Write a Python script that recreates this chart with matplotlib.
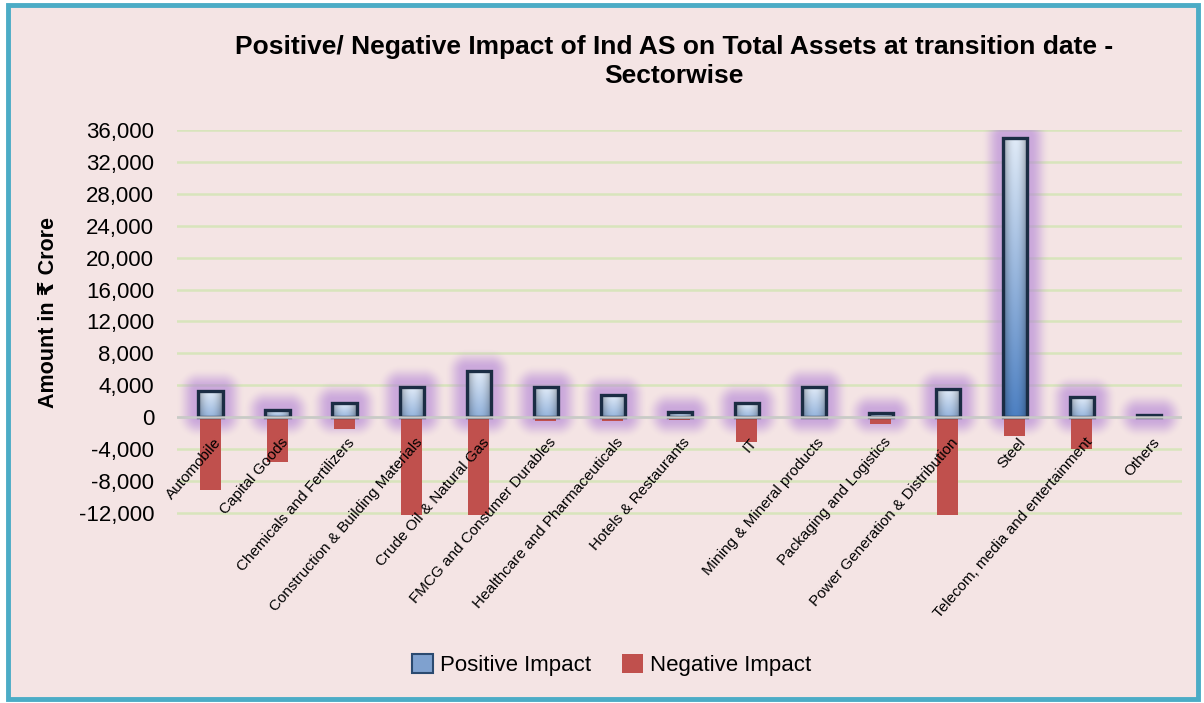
import numpy as np
import matplotlib.pyplot as plt
from matplotlib.patches import Rectangle, Patch
from matplotlib.ticker import FuncFormatter

plt.rcParams['font.family'] = ['Liberation Sans', 'DejaVu Sans']

# sector-wise impact on total assets (Rs crore)
sectors = ["Automobile", "Capital Goods", "Chemicals and Fertilizers",
           "Construction & Building Materials", "Crude Oil & Natural Gas",
           "FMCG and Consumer Durables", "Healthcare and Pharmaceuticals",
           "Hotels & Restaurants", "IT", "Mining & Mineral products",
           "Packaging and Logistics", "Power Generation & Distribution",
           "Steel", "Telecom, media and entertainment", "Others"]
positive = [3250, 900, 1750, 3750, 5750, 3750, 2750, 600, 1750, 3750, 500, 3500, 35000, 2500, 300]
negative = [-9100, -5600, -1500, -12300, -12300, -500, -500, -300, -3100, 0, -800, -12300, -2300, -4000, -100]

title = "Positive/ Negative Impact of Ind AS on Total Assets at transition date -\nSectorwise"
ylabel = "Amount in \u20b9 Crore"
yticks = list(range(-12000, 36001, 4000))

fig = plt.figure(figsize=(12.04, 7.03), dpi=100, facecolor='white')
# pink chart area with teal frame
fig.patches.append(Rectangle((8 / 1204, 4 / 703), 1190 / 1204, 694 / 703,
                             transform=fig.transFigure, facecolor='#F4E4E4',
                             edgecolor='#4BACC6', linewidth=3.5, zorder=-10))

ax = fig.add_axes([0.147, 0.267, 0.835, 0.548])
ax.set_facecolor('none')
n = len(sectors)
x = np.arange(n)
xlim = (-0.5, n - 0.5)
ylim = (-12300, 36000)

ax.set_yticks(yticks)
ax.yaxis.set_major_formatter(FuncFormatter(lambda v, p: f"{int(v):,}"))
ax.yaxis.grid(True, color='#D8E4BC', lw=1.8, zorder=0)
ax.set_axisbelow(True)
for s in ax.spines.values():
    s.set_visible(False)
ax.tick_params(left=False, bottom=False, labelbottom=False, labelsize=16, pad=13)
ax.axhline(0, color='#C9C9C9', lw=1.8, zorder=5)

# negative impact bars
ax.bar(x, negative, width=0.31, color='#C0504D', zorder=3)

# positive impact bars with bevel-like gradient
pw = 0.36
bars = ax.bar(x, positive, width=pw, facecolor='none', edgecolor='#1B2D44', lw=2.4, zorder=4.5)
ny, nx = 200, 40
v = np.linspace(0, 1, ny)[:, None, None]
u = np.linspace(0, 1, nx)[None, :, None]
top = np.array([0.88, 0.92, 0.97])
bot = np.array([0.30, 0.50, 0.76])
for b, val in zip(bars, positive):
    frac = val / max(positive)
    vv = v * (0.45 + 0.55 * frac)
    base = top * (1 - vv) + bot * vv
    shade = 0.62 + 0.38 * np.sin(np.pi * u) ** 0.7
    img = np.clip(base * shade, 0, 1)
    im = ax.imshow(img, extent=[b.get_x(), b.get_x() + pw, 0, val],
                   aspect='auto', origin='upper', zorder=4, interpolation='bilinear')
    im.set_clip_path(b)

ax.set_xlim(*xlim)
ax.set_ylim(*ylim)

# soft purple glow behind the positive bars
bb = ax.bbox
W, H = int(round(bb.width)), int(round(bb.height))
PX = bb.x0 + np.arange(W)[None, :] + 0.5
PY = bb.y0 + np.arange(H)[:, None] + 0.5
glow = np.zeros((H, W))
for xi, val in zip(x, positive):
    (x0, y0), (x1, y1) = ax.transData.transform([(xi - pw / 2, 0), (xi + pw / 2, val)])
    dx = np.maximum(np.maximum(x0 - PX, PX - x1), 0)
    dy = np.maximum(np.maximum(y0 - PY, PY - y1), 0)
    d = np.hypot(dx, dy)
    t = np.clip((d - 3) / 19, 0, 1)
    glow = np.maximum(glow, 1 - t * t * (3 - 2 * t))
rgba = np.zeros((H, W, 4))
rgba[..., :3] = [0.70, 0.52, 0.84]
rgba[..., 3] = 0.62 * glow
ax.imshow(rgba, extent=[*xlim, *ylim], aspect='auto', origin='lower', zorder=2,
          interpolation='bilinear')
ax.set_xlim(*xlim)
ax.set_ylim(*ylim)

# category labels sit right under the zero line
for xi, name in zip(x, sectors):
    ax.annotate(name, xy=(xi, 0), xytext=(2, -13), textcoords='offset points',
                rotation=49, rotation_mode='anchor', ha='right', va='top',
                fontsize=11, annotation_clip=False)

fig.text(0.56, 0.9125, title, ha='center', va='center', fontsize=19,
         fontweight='bold', linespacing=1.3)
fig.text(0.04, 0.555, ylabel, rotation=90, ha='center', va='center',
         fontsize=15.5, fontweight='bold')

handles = [Patch(facecolor='#7FA1CF', edgecolor='#2B4A70', lw=1.5, label='Positive Impact'),
           Patch(facecolor='#C0504D', label='Negative Impact')]
fig.legend(handles=handles, loc='center', bbox_to_anchor=(0.508, 0.054), ncol=2,
           frameon=False, fontsize=16, handlelength=0.95, handleheight=0.95,
           handletextpad=0.3, columnspacing=1.4)

fig.savefig('out.png', dpi=100, facecolor='white')
